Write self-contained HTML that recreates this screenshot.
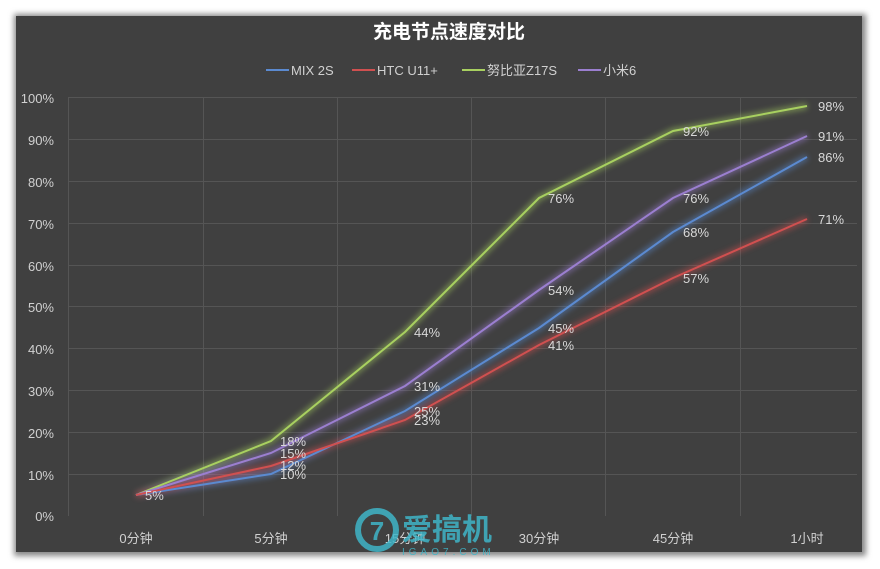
<!DOCTYPE html>
<html><head><meta charset="utf-8"><style>
body{margin:0;background:#fff;width:880px;height:569px;overflow:hidden}
svg{display:block;font-family:"Liberation Sans","Noto Sans CJK SC",sans-serif}
</style></head><body>
<svg width="880" height="569" viewBox="0 0 880 569">
<defs>
<filter id="sh" x="-5%" y="-5%" width="110%" height="110%"><feGaussianBlur stdDeviation="3"/></filter>
<filter id="gl" x="-10%" y="-10%" width="120%" height="120%"><feGaussianBlur stdDeviation="3"/></filter>
</defs>
<rect x="14" y="14" width="852" height="542" fill="#888" filter="url(#sh)"/>
<rect x="16" y="16" width="846" height="536" fill="#404040"/>
<text x="449" y="38" fill="#fff" font-size="19" font-weight="bold" text-anchor="middle">充电节点速度对比</text>
<g font-size="13" fill="#d0d0d0">
<line x1="266" y1="70" x2="289" y2="70" stroke="#5b8ad0" stroke-width="2"/><text x="291" y="75">MIX 2S</text>
<line x1="352" y1="70" x2="375" y2="70" stroke="#d05050" stroke-width="2"/><text x="377" y="75">HTC U11+</text>
<line x1="462" y1="70" x2="485" y2="70" stroke="#a8d060" stroke-width="2"/><text x="487" y="75">努比亚Z17S</text>
<line x1="578" y1="70" x2="601" y2="70" stroke="#9b7fd0" stroke-width="2"/><text x="603" y="75">小米6</text>
</g>
<g stroke="#555" stroke-width="1">
<line x1="68" y1="97.5" x2="857" y2="97.5"/><line x1="68" y1="139.5" x2="857" y2="139.5"/><line x1="68" y1="181.5" x2="857" y2="181.5"/><line x1="68" y1="223.5" x2="857" y2="223.5"/><line x1="68" y1="265.5" x2="857" y2="265.5"/><line x1="68" y1="306.5" x2="857" y2="306.5"/><line x1="68" y1="348.5" x2="857" y2="348.5"/><line x1="68" y1="390.5" x2="857" y2="390.5"/><line x1="68" y1="432.5" x2="857" y2="432.5"/><line x1="68" y1="474.5" x2="857" y2="474.5"/>
<line x1="68.5" y1="97" x2="68.5" y2="516"/><line x1="203.5" y1="97" x2="203.5" y2="516"/><line x1="337.5" y1="97" x2="337.5" y2="516"/><line x1="471.5" y1="97" x2="471.5" y2="516"/><line x1="605.5" y1="97" x2="605.5" y2="516"/><line x1="740.5" y1="97" x2="740.5" y2="516"/>
</g>
<g font-size="13" fill="#d0d0d0" text-anchor="end">
<text x="54" y="103">100%</text><text x="54" y="145">90%</text><text x="54" y="187">80%</text><text x="54" y="229">70%</text><text x="54" y="271">60%</text><text x="54" y="312">50%</text><text x="54" y="354">40%</text><text x="54" y="396">30%</text><text x="54" y="438">20%</text><text x="54" y="480">10%</text><text x="54" y="521">0%</text>
</g>
<g font-size="13" fill="#d0d0d0" text-anchor="middle">
<text x="136" y="543">0分钟</text><text x="271" y="543">5分钟</text><text x="405" y="543">15分钟</text><text x="539" y="543">30分钟</text><text x="673" y="543">45分钟</text><text x="807" y="543">1小时</text>
</g>
<g fill="none" stroke-width="6" opacity="0.5" filter="url(#gl)">
<polyline stroke="#a8d060" points="136,495 271,441 405,332 539,198 673,131 807,106"/>
<polyline stroke="#9b7fd0" points="136,495 271,453 405,386 539,290 673,198 807,136"/>
<polyline stroke="#5b8ad0" points="136,495 271,474 405,411 539,328 673,232 807,157"/>
<polyline stroke="#d05050" points="136,495 271,466 405,420 539,345 673,278 807,219"/>
</g>
<g fill="none" stroke-width="2">
<polyline stroke="#a8d060" points="136,495 271,441 405,332 539,198 673,131 807,106"/>
<polyline stroke="#9b7fd0" points="136,495 271,453 405,386 539,290 673,198 807,136"/>
<polyline stroke="#5b8ad0" points="136,495 271,474 405,411 539,328 673,232 807,157"/>
<polyline stroke="#d05050" points="136,495 271,466 405,420 539,345 673,278 807,219"/>
</g>
<g font-size="13" fill="#d8d8d8">
<text x="145" y="500">5%</text>
<text x="280" y="446">18%</text><text x="280" y="458">15%</text><text x="280" y="470">12%</text><text x="280" y="479">10%</text>
<text x="414" y="337">44%</text><text x="414" y="391">31%</text><text x="414" y="416">25%</text><text x="414" y="425">23%</text>
<text x="548" y="203">76%</text><text x="548" y="295">54%</text><text x="548" y="333">45%</text><text x="548" y="350">41%</text>
<text x="683" y="136">92%</text><text x="683" y="203">76%</text><text x="683" y="237">68%</text><text x="683" y="283">57%</text>
<text x="818" y="111">98%</text><text x="818" y="141">91%</text><text x="818" y="162">86%</text><text x="818" y="224">71%</text>
</g>
<g opacity="0.85">
<circle cx="377" cy="530" r="19" fill="none" stroke="#3fb5c8" stroke-width="6"/>
<text x="377" y="540" font-size="26" font-weight="bold" fill="#3fb5c8" text-anchor="middle">7</text>
<text x="402" y="540" font-size="30" font-weight="bold" fill="#3fb5c8">爱搞机</text>
<text x="402" y="555" font-size="10" fill="#3fb5c8" letter-spacing="4">IGAO7.COM</text>
</g>
</svg>
</body></html>
